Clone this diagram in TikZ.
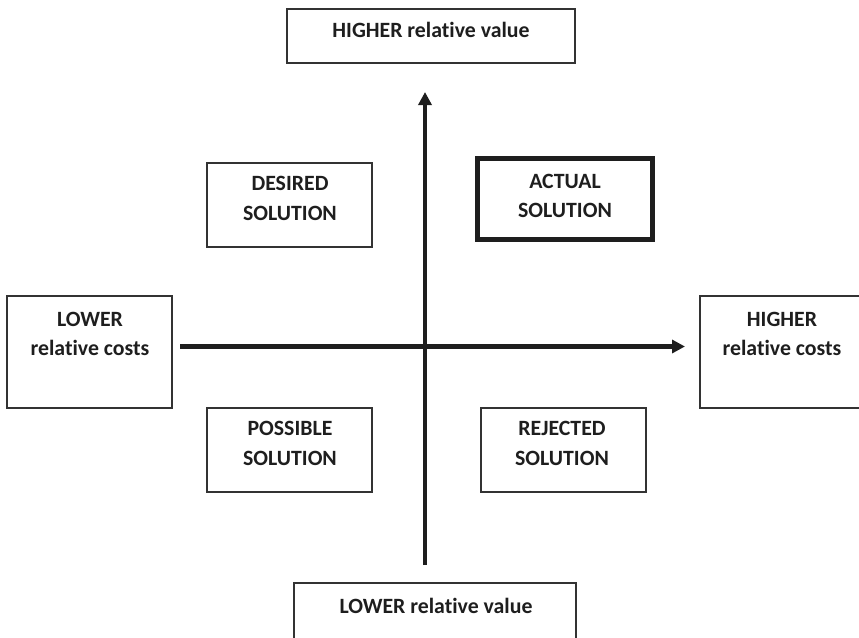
\documentclass[tikz,border=0pt]{standalone}
\usepackage{fontspec}
\setmainfont{Carlito}[Ligatures=NoCommon]
\usetikzlibrary{arrows.meta}
\definecolor{boxgray}{HTML}{333333}
\definecolor{inkc}{HTML}{1E1E1E}
\tikzset{
  box/.style={draw=boxgray, line width=1.4pt, rectangle, inner sep=0pt, minimum width=#1},
  box/.default=165pt,
  actualbox/.style={draw=inkc, line width=5pt, rectangle, inner sep=0pt, minimum width=175pt, minimum height=81pt},
  lbl/.style={anchor=base, inner sep=0pt, text=inkc, font=\fontsize{21.8}{26}\selectfont\bfseries},
  axis/.style={draw=inkc, line width=4.5pt, -{Triangle[width=13pt,length=13pt]}}
}
\begin{document}
\begin{tikzpicture}[x=1pt,y=-1pt]
\useasboundingbox (0,0) rectangle (859,637);
\clip (0,0) rectangle (859,637);
% boxes
\node[box=288pt, minimum height=54pt] (top) at (431,36) {};
\node[box=282pt, minimum height=62pt] (bottom) at (435,614) {};
\node[box, minimum height=112pt] (left) at (89.5,352) {};
\node[box, minimum height=112pt] (right) at (782.5,352) {};
\node[box, minimum height=84pt] (desired) at (289.5,205) {};
\node[box, minimum height=84pt] (possible) at (289.5,450) {};
\node[box, minimum height=84pt] (rejected) at (563.5,450) {};
\node[actualbox] (actual) at (565,199) {};
% texts
\node[lbl] (topT) at (431,37) {HIGHER relative value};
\node[lbl] (bottomT) at (436,613) {LOWER relative value};
\node[lbl] (leftT1) at (90,326) {LOWER};
\node[lbl] (leftT2) at (90,355) {relative costs};
\node[lbl] (rightT1) at (782,326) {HIGHER};
\node[lbl] (rightT2) at (782,355) {relative costs};
\node[lbl] (desiredT1) at (290,190.5) {DESIRED};
\node[lbl] (desiredT2) at (290,220) {SOLUTION};
\node[lbl] (possibleT1) at (290,435.5) {POSSIBLE};
\node[lbl] (possibleT2) at (290,465) {SOLUTION};
\node[lbl] (rejectedT1) at (562,435.5) {REJECTED};
\node[lbl] (rejectedT2) at (562,465) {SOLUTION};
\node[lbl] (actualT1) at (565,188) {ACTUAL};
\node[lbl] (actualT2) at (565,217) {SOLUTION};
% axes
\coordinate (hS) at (180,346.5);
\coordinate (hE) at (685,346.5);
\coordinate (vS) at (425,565);
\coordinate (vE) at (425,92);
\draw[axis] (hS) -- (hE);
\draw[axis] (vS) -- (vE);
\end{tikzpicture}
\end{document}
